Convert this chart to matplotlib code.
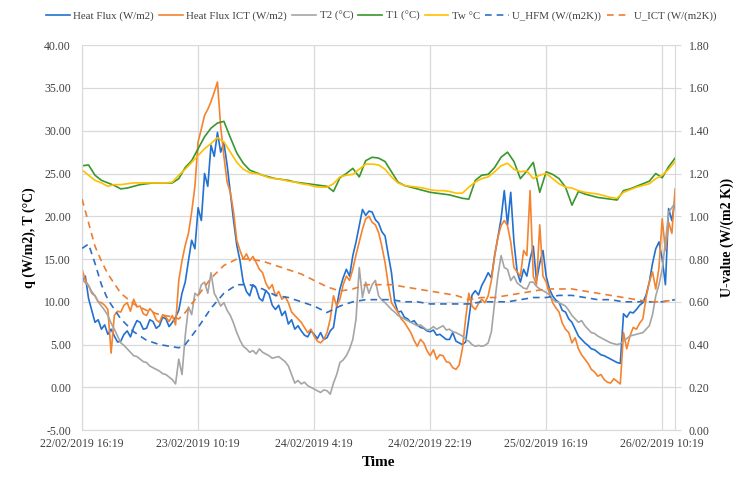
import matplotlib.pyplot as plt
import pandas as pd

start = '2019-02-22 16:19'

# half-hourly readings, 22/02 16:19 -> 26/02 12:19
heat_flux = [12.3, 13.0, 10.4, 9.0, 7.6, 7.9, 6.8, 7.3, 6.2, 6.8, 6.0, 5.3, 5.4, 6.2, 6.6, 5.9,
             7.0, 7.8, 7.6, 6.8, 6.9, 7.9, 7.7, 6.9, 7.2, 8.2, 8.0, 7.1, 7.6, 8.2, 9.0, 11.0,
             12.3, 14.8, 17.2, 16.2, 21.0, 19.5, 25.0, 23.5, 28.3, 27.0, 29.8, 27.5, 28.6, 26.0, 22.8, 19.5,
             16.6, 14.8, 12.3, 11.2, 10.7, 12.0, 11.6, 10.4, 10.1, 11.3, 10.9, 9.6, 9.1, 9.6, 8.4, 8.9,
             7.4, 7.9, 6.8, 7.2, 6.6, 6.1, 5.9, 6.6, 6.2, 5.7, 6.4, 5.6, 5.8, 6.6, 7.0, 9.5,
             11.5, 12.8, 13.8, 13.0, 15.4, 17.0, 18.9, 20.8, 20.1, 20.6, 20.5, 19.6, 19.2, 18.2, 17.7, 15.5,
             13.4, 10.0, 8.8, 8.9, 8.2, 8.0, 7.6, 7.8, 7.3, 7.0, 6.9, 6.6, 6.5, 6.7, 6.1, 6.2,
             5.9, 5.6, 5.6, 6.4, 5.4, 5.2, 5.0, 5.3, 8.0, 10.8, 11.3, 10.8, 11.9, 12.6, 13.4, 12.8,
             15.4, 17.5, 19.7, 23.0, 19.0, 22.8, 17.0, 13.5, 12.3, 13.8, 13.0, 15.0, 16.5, 12.5, 14.5, 16.0,
             13.0, 11.5, 10.7, 10.2, 9.9, 9.0, 8.8, 8.0, 7.6, 6.8, 6.0, 5.6, 5.2, 4.9, 4.5, 4.4,
             4.1, 3.8, 3.7, 3.5, 3.3, 3.1, 2.9, 2.8, 8.6, 8.2, 8.8, 8.7, 9.1, 9.6, 9.9, 10.8,
             12.3, 14.5, 16.2, 17.0, 15.0, 12.0, 20.9, 19.5, 22.0]
heat_flux_ict = [13.8, 12.5, 11.9, 11.0, 10.7, 10.0, 9.9, 9.6, 9.1, 4.0, 8.4, 8.9, 8.8, 9.6, 9.9, 8.9,
                 10.3, 9.4, 9.5, 8.6, 8.4, 9.2, 8.8, 7.9, 7.6, 8.5, 8.2, 7.7, 8.4, 7.3, 12.5, 14.8,
                 16.6, 18.0, 20.5, 23.5, 28.7, 30.2, 31.8, 32.5, 33.4, 34.5, 35.7, 30.5, 27.0, 24.0, 22.8, 20.5,
                 17.2, 16.0, 15.0, 15.6, 14.8, 15.3, 14.6, 13.8, 13.4, 12.2, 11.5, 12.0, 10.7, 11.2, 10.3, 10.6,
                 9.9, 8.8, 8.4, 8.0, 7.6, 7.0, 6.4, 6.8, 6.0, 5.4, 5.2, 5.6, 6.4, 8.0, 10.7, 9.5,
                 10.3, 12.0, 13.0, 12.5, 13.8, 15.5, 17.0, 18.5, 19.7, 20.0, 19.3, 19.0, 18.1, 16.5, 14.6, 12.0,
                 9.9, 9.3, 8.8, 8.0, 7.6, 7.0, 6.4, 5.5, 4.8, 5.6, 5.2, 4.3, 3.7, 4.4, 3.3, 3.8,
                 3.7, 3.0, 2.9, 2.3, 2.1, 2.6, 4.5, 8.0, 11.0, 9.5, 9.1, 9.8, 10.3, 9.9, 10.7, 12.5,
                 15.4, 17.5, 18.9, 19.5, 18.9, 17.0, 14.0, 13.5, 13.0, 16.0, 15.4, 23.0, 13.0, 12.0, 19.0, 13.0,
                 12.3, 11.0, 9.9, 9.3, 8.8, 7.5, 6.8, 6.4, 5.2, 5.8, 4.5, 3.8, 3.3, 2.8, 2.1, 1.8,
                 1.3, 1.5, 0.9, 0.6, 0.5, 1.0, 0.7, 0.4, 6.4, 4.5, 6.0, 7.0, 6.8, 7.5, 8.0, 10.5,
                 12.3, 13.5, 11.5, 14.0, 19.7, 16.0, 19.3, 18.0, 23.2]
t2 = [12.7, 12.2, 11.9, 11.2, 10.7, 10.0, 9.5, 9.0, 8.4, 7.5, 6.8, 6.0, 5.2, 4.9, 4.5, 4.1,
      3.7, 3.6, 3.3, 3.0, 2.9, 2.5, 2.3, 2.1, 1.9, 1.6, 1.5, 1.2, 0.9, 0.4, 3.3, 1.5,
      6.0, 9.4, 8.5, 11.0, 10.7, 12.0, 12.3, 11.0, 13.4, 11.0, 10.3, 9.5, 9.9, 9.0, 8.4, 7.5,
      6.4, 5.5, 4.8, 4.5, 4.1, 4.3, 3.9, 4.5, 4.1, 3.9, 3.7, 3.4, 3.5, 3.6, 3.3, 3.0,
      2.5, 1.5, 0.5, 0.8, 0.4, 0.6, 0.2, 0.0, -0.2, -0.4, -0.6, -0.3, -0.4, -0.8, 0.5, 1.5,
      2.9, 3.2, 3.7, 4.5, 5.6, 8.0, 14.0, 10.5, 12.3, 11.0, 12.0, 12.5, 10.7, 10.2, 9.9, 9.5,
      9.1, 8.8, 8.4, 8.2, 8.0, 7.8, 7.6, 7.4, 7.2, 7.3, 7.0, 6.7, 6.8, 7.1, 6.8, 7.0,
      7.2, 6.7, 6.8, 6.5, 6.4, 6.2, 6.0, 5.6, 5.4, 5.0, 4.8, 4.9, 4.8, 4.9, 5.2, 6.5,
      9.9, 13.0, 15.4, 14.0, 13.8, 12.5, 13.0, 12.2, 11.9, 11.6, 11.5, 12.3, 12.3, 11.8, 11.5, 11.3,
      11.1, 10.8, 10.3, 10.0, 9.9, 9.7, 9.5, 9.0, 8.4, 8.0, 7.6, 7.8, 7.2, 6.8, 6.4, 6.3,
      6.0, 5.8, 5.6, 5.4, 5.2, 5.1, 5.0, 5.1, 5.4, 5.7, 6.0, 6.1, 6.2, 6.3, 6.4, 6.8,
      7.2, 8.5, 10.7, 12.0, 13.8, 17.0, 20.5, 21.0, 21.6]

# hourly readings
t1 = [25.9, 26.0, 24.8, 24.2, 23.9, 23.6, 23.2, 23.3, 23.5, 23.7, 23.8, 23.9, 23.9, 23.9, 23.9, 24.4,
      25.7, 26.5, 27.9, 29.3, 30.3, 30.9, 31.1, 29.2, 27.4, 26.2, 25.4, 25.1, 24.8, 24.6, 24.4,
      24.3, 24.2, 24.0, 23.9, 23.8, 23.7, 23.6, 23.5, 22.9, 24.5, 25.0, 25.6, 24.6, 26.5, 26.9,
      26.8, 26.4, 25.2, 24.0, 23.6, 23.4, 23.2, 23.0, 22.8, 22.7, 22.6, 22.5, 22.3, 22.1, 22.0,
      24.2, 24.8, 24.9, 25.7, 26.9, 27.5, 26.4, 24.4, 25.3, 26.3, 22.8, 25.2, 24.9, 24.4, 23.4,
      21.3, 22.9, 22.6, 22.4, 22.2, 22.1, 22.0, 21.9, 23.0, 23.2, 23.5, 23.8, 24.1, 25.0, 24.5, 25.8, 26.8]
tw = [25.4, 24.8, 24.2, 23.9, 23.5, 23.7, 23.7, 23.8, 23.9, 23.9, 23.9, 23.9, 23.9, 23.9, 24.0, 24.8,
      25.5, 26.3, 27.1, 27.9, 28.5, 29.2, 28.7, 27.5, 26.3, 25.5, 25.1, 25.0, 24.8, 24.5, 24.4,
      24.3, 24.1, 24.0, 23.8, 23.7, 23.5, 23.4, 23.4, 23.8, 24.6, 24.8, 24.9, 25.5, 26.1, 26.1,
      26.0, 25.5, 24.6, 23.9, 23.6, 23.5, 23.4, 23.3, 23.1, 23.0, 23.0, 22.9, 22.7, 22.7, 23.4,
      24.0, 24.4, 24.6, 25.2, 25.9, 26.2, 25.5, 25.2, 25.3, 24.4, 24.8, 25.0, 24.4, 23.8, 23.4,
      23.3, 23.0, 22.8, 22.7, 22.6, 22.4, 22.2, 22.1, 22.8, 23.1, 23.4, 23.6, 23.8, 24.4, 24.8, 25.5, 26.4]

# U-values, hours after start
u_hours = [0, 1, 2, 3, 4, 6, 8, 10, 12, 14, 15, 16, 18, 20, 22, 24, 26, 28, 30, 32, 34, 36, 38, 40,
           42, 44, 46, 48, 50, 52, 54, 56, 58, 60, 62, 64, 66, 68, 70, 72, 74, 76, 78, 80, 82, 84,
           86, 88, 90, 92]
u_hfm = [0.85, 0.87, 0.78, 0.68, 0.61, 0.52, 0.46, 0.42, 0.40, 0.39, 0.385, 0.40, 0.48, 0.57, 0.64,
         0.68, 0.68, 0.66, 0.63, 0.62, 0.60, 0.58, 0.55, 0.58, 0.60, 0.61, 0.61, 0.61, 0.60, 0.60,
         0.59, 0.59, 0.59, 0.59, 0.60, 0.60, 0.60, 0.61, 0.62, 0.62, 0.63, 0.63, 0.62, 0.61, 0.61,
         0.60, 0.60, 0.60, 0.60, 0.61]
u_ict = [1.08, 0.97, 0.86, 0.79, 0.73, 0.64, 0.59, 0.56, 0.54, 0.53, 0.52, 0.55, 0.63, 0.71, 0.77,
         0.80, 0.80, 0.79, 0.77, 0.75, 0.73, 0.70, 0.67, 0.65, 0.66, 0.68, 0.68, 0.68, 0.67, 0.66,
         0.65, 0.64, 0.63, 0.61, 0.62, 0.62, 0.63, 0.64, 0.65, 0.66, 0.66, 0.66, 0.65, 0.64, 0.63,
         0.62, 0.61, 0.60, 0.60, 0.61]

tick_labels = ['22/02/2019 16:19', '23/02/2019 10:19', '24/02/2019 4:19',
               '24/02/2019 22:19', '25/02/2019 16:19', '26/02/2019 10:19']


def plotting():
    plt.rcParams['font.family'] = 'Liberation Serif'
    grid_c = '#d9d9d9'

    time_half = pd.date_range(start, periods=len(heat_flux), freq='30min')
    time_hour = pd.date_range(start, periods=len(t1), freq='h')
    u_time = pd.Timestamp(start) + pd.to_timedelta(u_hours, unit='h')
    tick_pos = pd.date_range(start, periods=len(tick_labels), freq='18h')

    fig = plt.figure(figsize=(7.33, 4.86), dpi=100)
    ax = fig.add_axes([0.112, 0.115, 0.809, 0.792])
    ax2 = ax.twinx()

    ax.plot(time_half, heat_flux, color='#2271d0', lw=1.2, label='Heat Flux (W/m2)')
    ax.plot(time_half, heat_flux_ict, color='#f4832f', lw=1.2, label='Heat Flux ICT (W/m2)')
    ax.plot(time_half, t2, color='#a5a5a5', lw=1.2, label='T2 (°C)')
    ax.plot(time_hour, t1, color='#3a962e', lw=1.2, label='T1 (°C)')
    ax.plot(time_hour, tw, color='#ffc000', lw=1.2, label='Tw °C')
    ax2.plot(u_time, u_hfm, color='#2e6fc4', lw=1.2, ls=(0, (4, 3)), label='U_HFM (W/(m2K))')
    ax2.plot(u_time, u_ict, color='#ed7d31', lw=1.2, ls=(0, (4, 3)), label='U_ICT (W/(m2K))')

    ax.set_xlim(time_hour[0], time_hour[-1])
    ax.set_ylim(-5, 40)
    ax2.set_ylim(0, 1.8)
    ax.set_xticks(tick_pos)
    ax.set_xticklabels(tick_labels)
    ax.set_yticks(range(-5, 41, 5))
    ax.set_yticklabels(['{:.2f}'.format(v) for v in range(-5, 41, 5)])
    ax2.set_yticks([i * 0.2 for i in range(10)])
    ax2.set_yticklabels(['{:.2f}'.format(i * 0.2) for i in range(10)])

    ax.grid(True, color=grid_c, lw=0.9)
    ax.set_axisbelow(True)
    for s in ['top', 'right']:
        ax.spines[s].set_visible(False)
    for s in ['left', 'bottom']:
        ax.spines[s].set_color(grid_c)
    for s in ['top', 'left', 'bottom']:
        ax2.spines[s].set_visible(False)
    ax2.spines['right'].set_color(grid_c)

    ax.tick_params(axis='both', length=0, labelsize=8.5, colors='#404040')
    ax.tick_params(axis='x', pad=6)
    ax.tick_params(axis='y', pad=8)
    ax2.tick_params(axis='y', length=4, color=grid_c, labelsize=8.5, labelcolor='#404040', pad=6)

    ax.set_xlabel('Time', fontsize=11, fontweight='bold', labelpad=4)
    ax.set_ylabel('q (W/m2), T (°C)', fontsize=10, fontweight='bold', labelpad=6)
    ax2.set_ylabel('U-value (W/(m2 K))', fontsize=10, fontweight='bold', labelpad=8)

    h1, l1 = ax.get_legend_handles_labels()
    h2, l2 = ax2.get_legend_handles_labels()
    fig.legend(h1 + h2, l1 + l2, loc='center', bbox_to_anchor=(0.52, 0.967), ncol=7,
               frameon=False, fontsize=7.8, handlelength=2.2, handletextpad=0.3,
               columnspacing=0.5, labelcolor='#404040')

    fig.savefig('out.png', dpi=100)


if __name__ == '__main__':
    plotting()
